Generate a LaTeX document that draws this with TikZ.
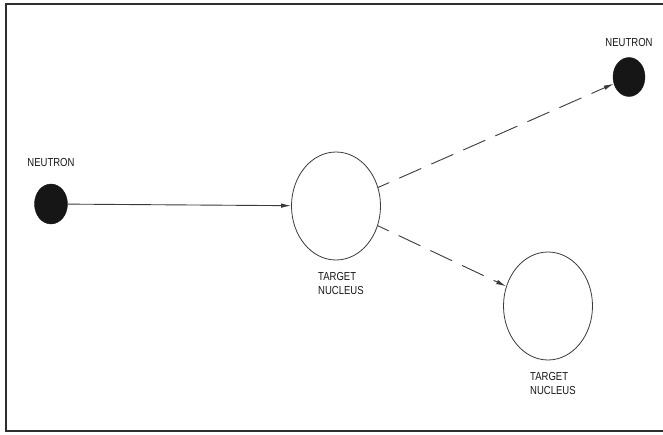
\documentclass[tikz,border=0pt]{standalone}
\usepackage{fontspec}
\setsansfont{Liberation Sans}[FakeStretch=0.82]
\usepackage{tikz}
\usetikzlibrary{arrows.meta,positioning,shapes.geometric}
\definecolor{ink}{HTML}{161616}
\definecolor{edge}{HTML}{3A3A3A}
\definecolor{frame}{HTML}{2E2E2E}

\begin{document}
\begin{tikzpicture}[
  x=1pt,y=1pt,
  every node/.style={font=\sffamily\fontsize{11.6}{14.5}\selectfont},
  neutron/.style={ellipse,draw=ink,fill=ink,inner sep=0pt},
  nucleus/.style={ellipse,draw=edge,line width=0.8pt,fill=white,minimum width=89pt,minimum height=108pt,inner sep=0pt},
  tag/.style={inner sep=0pt,align=left,text=ink},
  border/.style={draw=frame,line width=2.4pt},
  beam/.style={draw=edge,line width=0.9pt,-{Latex[length=10pt,width=4.5pt]}},
  scatter/.style={beam,dash pattern=on 24pt off 11pt,dash phase=12pt}
]
\useasboundingbox (0,0) rectangle (663,434);
\draw[border] (663,430) -- (6,430) -- (6,3) -- (663,3);
\node[neutron,minimum width=33pt,minimum height=40pt] (nL) at (51,230) {};
\node[nucleus] (tA) at (336,228) {};
\node[neutron,minimum width=32pt,minimum height=39pt] (nR) at (629,357) {};
\node[nucleus] (tB) at (548,128) {};
\draw[beam] (nL) -- (tA);
\draw[scatter] (tA) -- (nR);
\draw[scatter] (tA) -- (tB);
\node[tag,above=17pt of nL] {NEUTRON};
\node[tag,above=10.5pt of nR] {NEUTRON};
\node[tag,below right=11.7pt and -18pt of tA.south] {TARGET\\NUCLEUS};
\node[tag,below right=11.7pt and -18pt of tB.south] {TARGET\\NUCLEUS};
\end{tikzpicture}
\end{document}
